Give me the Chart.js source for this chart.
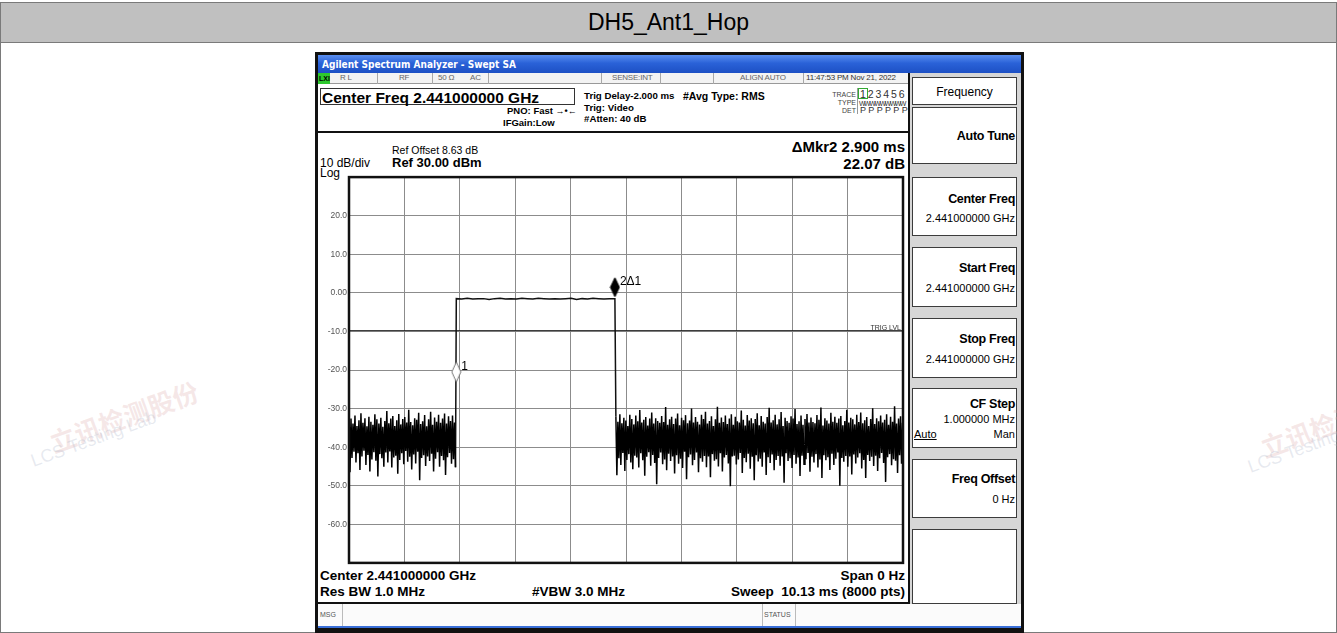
<!DOCTYPE html>
<html><head><meta charset="utf-8">
<script src="https://cdn.jsdelivr.net/npm/chart.js@4.4.0/dist/chart.umd.min.js"></script>
<style>
html,body{margin:0;padding:0;background:#fff;}
body{width:1337px;height:633px;position:relative;overflow:hidden;font-family:"Liberation Sans",Arial,sans-serif;color:#000;}
.a{position:absolute;white-space:nowrap;line-height:1;}
.b{position:absolute;box-sizing:border-box;}
.sk{position:absolute;box-sizing:border-box;left:912px;width:105px;background:#fff;border:1px solid #3c3c3c;}
.skt{position:absolute;right:1px;font-weight:bold;font-size:12.5px;letter-spacing:-0.3px;line-height:1;}
.skv{position:absolute;right:1px;font-size:11px;line-height:1;}
.st{position:absolute;top:74px;font-size:8px;color:#666;line-height:1;letter-spacing:-0.2px;white-space:nowrap;}
.sep{position:absolute;top:73px;width:1px;height:11px;background:#a8a8a8;}
.wm{position:absolute;white-space:nowrap;transform-origin:left top;}
</style>
</head><body>

<!-- page frame -->
<div class="b" style="left:0;top:2px;width:1337px;height:41px;background:#c0c0c0;border:1px solid #7a7a7a;"></div>
<div class="a" style="left:0;width:1337px;top:11px;text-align:center;font-size:23px;">DH5_Ant1_Hop</div>
<div class="b" style="left:0;top:43px;width:1px;height:590px;background:#7a7a7a;"></div>
<div class="b" style="left:1336px;top:43px;width:1px;height:590px;background:#7a7a7a;"></div>
<div class="b" style="left:0;top:632px;width:1337px;height:1px;background:#7a7a7a;"></div>

<!-- watermarks -->
<div class="wm" style="left:44px;top:425px;transform:rotate(-20deg);color:rgba(215,160,160,0.25);font-size:26px;font-weight:bold;font-family:'Noto Sans CJK SC';">立讯检测股份</div>
<div class="wm" style="left:28px;top:452px;transform:rotate(-20deg);color:rgba(170,180,200,0.28);font-size:18px;">LCS Testing Lab</div>
<div class="wm" style="left:1255px;top:430px;transform:rotate(-20deg);color:rgba(215,160,160,0.25);font-size:26px;font-weight:bold;font-family:'Noto Sans CJK SC';">立讯检测股份</div>
<div class="wm" style="left:1245px;top:458px;transform:rotate(-20deg);color:rgba(170,180,200,0.28);font-size:18px;">LCS Testing Lab</div>

<!-- analyzer frame -->
<div class="b" style="left:315px;top:52px;width:709px;height:581px;background:#111;"></div>
<div class="b" style="left:318px;top:55px;width:703px;height:18px;background:linear-gradient(#5b8ff0,#2a62d8 45%,#1d50c4);"></div>
<div class="a" style="left:322px;top:60px;color:#fff;font-weight:bold;font-size:10px;font-family:'Liberation Sans Narrow','DejaVu Sans Condensed',sans-serif;">Agilent Spectrum Analyzer - Swept SA</div>

<!-- status row -->
<div class="b" style="left:318px;top:73px;width:591px;height:11px;background:#f3f3f3;border-bottom:1px solid #999;"></div>
<div class="b" style="left:318px;top:73px;width:12px;height:11px;background:#2ec82e;"></div>
<div class="a" style="left:319px;top:75px;font-size:7px;font-weight:bold;">LXI</div>
<div class="st" style="left:340px;">R L</div>
<div class="sep" style="left:377px;"></div>
<div class="st" style="left:399px;">RF</div>
<div class="sep" style="left:432px;"></div>
<div class="st" style="left:438px;">50 Ω</div>
<div class="st" style="left:470px;">AC</div>
<div class="sep" style="left:488px;"></div>
<div class="sep" style="left:601px;"></div>
<div class="st" style="left:612px;">SENSE:INT</div>
<div class="sep" style="left:660px;"></div>
<div class="sep" style="left:713px;"></div>
<div class="st" style="left:740px;">ALIGN AUTO</div>
<div class="sep" style="left:803px;"></div>
<div class="st" style="left:806px;color:#333;">11:47:53 PM Nov 21, 2022</div>

<!-- left white content -->
<div class="b" style="left:318px;top:84px;width:590px;height:520px;background:#fff;"></div>
<!-- right panel -->
<div class="b" style="left:908px;top:73px;width:113px;height:531px;background:#d6d6d6;border-left:2px solid #111;"></div>

<!-- header texts -->
<div class="b" style="left:320px;top:88px;width:255px;height:17px;border:1px solid #333;"></div>
<div class="a" style="left:322px;top:90px;font-size:15.5px;font-weight:bold;">Center Freq 2.441000000 GHz</div>
<div class="a" style="left:507px;top:106px;font-size:9.5px;font-weight:bold;">PNO: Fast <span style="font-size:9px;">→•←</span></div>
<div class="a" style="left:503px;top:118px;font-size:9.5px;font-weight:bold;">IFGain:Low</div>
<div class="a" style="left:584px;top:91px;font-size:9.7px;font-weight:bold;">Trig Delay-2.000 ms</div>
<div class="a" style="left:584px;top:103px;font-size:9.7px;font-weight:bold;">Trig: Video</div>
<div class="a" style="left:584px;top:114px;font-size:9.7px;font-weight:bold;">#Atten: 40 dB</div>
<div class="a" style="left:683px;top:91px;font-size:10.5px;font-weight:bold;">#Avg Type: RMS</div>
<div class="a" style="left:822px;width:34px;text-align:right;top:91px;font-size:7px;color:#444;">TRACE</div>
<div class="a" style="left:822px;width:34px;text-align:right;top:99px;font-size:7px;color:#444;">TYPE</div>
<div class="a" style="left:822px;width:34px;text-align:right;top:107px;font-size:7px;color:#444;">DET</div>
<div class="b" style="left:857px;top:88px;width:1px;height:26px;background:#999;"></div>
<div class="b" style="left:858px;top:88px;width:10px;height:11px;border:1px solid #3a3;"></div>
<div class="a" style="left:860px;top:89px;font-size:10.5px;color:#333;word-spacing:-1px;">1 2 3 4 5 6</div>
<div class="a" style="left:859px;top:100px;font-size:7px;color:#333;letter-spacing:-1.5px;">WWWWWWWWW</div>
<div class="a" style="left:860px;top:106px;font-size:9px;color:#333;">P P P P P P</div>

<!-- graph box top -->
<div class="b" style="left:318px;top:131px;width:590px;height:2px;background:#111;"></div>
<div class="a" style="left:392px;top:145px;font-size:10.5px;">Ref Offset 8.63 dB</div>
<div class="a" style="left:320px;top:157px;font-size:12px;">10 dB/div</div>
<div class="a" style="left:392px;top:156px;font-size:13px;font-weight:bold;">Ref 30.00 dBm</div>
<div class="a" style="left:320px;top:167px;font-size:12px;">Log</div>
<div class="a" style="left:700px;width:205px;text-align:right;top:139px;font-size:15px;font-weight:bold;">ΔMkr2 2.900 ms</div>
<div class="a" style="left:700px;width:205px;text-align:right;top:156px;font-size:15px;font-weight:bold;">22.07 dB</div>

<!-- bottom texts -->
<div class="a" style="left:320px;top:569px;font-size:13.5px;font-weight:bold;">Center 2.441000000 GHz</div>
<div class="a" style="left:320px;top:585px;font-size:13.5px;font-weight:bold;">Res BW 1.0 MHz</div>
<div class="a" style="left:532px;top:585px;font-size:13.5px;font-weight:bold;">#VBW 3.0 MHz</div>
<div class="a" style="left:600px;width:305px;text-align:right;top:569px;font-size:13.5px;font-weight:bold;">Span 0 Hz</div>
<div class="a" style="left:600px;width:305px;text-align:right;top:585px;font-size:13.5px;font-weight:bold;white-space:pre;">Sweep  10.13 ms (8000 pts)</div>
<div class="b" style="left:318px;top:602px;width:591px;height:2px;background:#111;"></div>

<!-- msg row -->
<div class="b" style="left:318px;top:604px;width:703px;height:22px;background:#fbfbfb;"></div>
<div class="b" style="left:342px;top:604px;width:1px;height:22px;background:#bbb;"></div>
<div class="a" style="left:320px;top:611px;font-size:7px;color:#555;">MSG</div>
<div class="b" style="left:762px;top:604px;width:1px;height:22px;background:#bbb;"></div>
<div class="b" style="left:795px;top:604px;width:1px;height:22px;background:#bbb;"></div>
<div class="a" style="left:764px;top:611px;font-size:7px;color:#555;">STATUS</div>
<div class="b" style="left:318px;top:626px;width:703px;height:2px;background:#3a6fd8;"></div>

<!-- softkeys -->
<div class="sk" style="top:77px;height:28px;"><div class="a" style="left:0;width:103px;text-align:center;top:8px;font-size:12px;">Frequency</div></div>
<div class="sk" style="top:107px;height:57px;"><div class="skt" style="top:22px;">Auto Tune</div></div>
<div class="sk" style="top:177px;height:59px;"><div class="skt" style="top:15px;">Center Freq</div><div class="skv" style="top:35px;">2.441000000 GHz</div></div>
<div class="sk" style="top:247px;height:60px;"><div class="skt" style="top:14px;">Start Freq</div><div class="skv" style="top:35px;">2.441000000 GHz</div></div>
<div class="sk" style="top:318px;height:60px;"><div class="skt" style="top:14px;">Stop Freq</div><div class="skv" style="top:35px;">2.441000000 GHz</div></div>
<div class="sk" style="top:388px;height:60px;"><div class="skt" style="top:9px;">CF Step</div><div class="skv" style="top:25px;">1.000000 MHz</div><div class="a" style="left:1px;top:40px;font-size:11px;text-decoration:underline;">Auto</div><div class="skv" style="top:40px;">Man</div></div>
<div class="sk" style="top:459px;height:59px;"><div class="skt" style="top:13px;">Freq Offset</div><div class="skv" style="top:34px;">0 Hz</div></div>
<div class="sk" style="top:529px;height:75px;"></div>

<!-- chart -->
<div style="position:absolute;left:320px;top:170px;width:590px;height:400px;">
<canvas id="c"></canvas>
</div>

<script>
// ---------- data ----------
const sweepMs = 10.13;
const sampleMs = 0.0182;             // one trace sample per display column
const yTickValues = [20, 10, 0, -10, -20, -30, -40, -50, -60];
const yTickTexts  = ['20.0', '10.0', '0.00', '-10.0', '-20.0', '-30.0', '-40.0', '-50.0', '-60.0'];
const xGridMs = [0, 1.013, 2.026, 3.039, 4.052, 5.065, 6.078, 7.091, 8.104, 9.117, 10.13];

const noiseLeftStartMs = 0;
const noiseLeft = [
-34.8,-46.5,-32.6,-42.8,-33.9,-41.2,-31.8,-44.0,-34.5,-41.6,-33.0,-45.9,-31.2,-42.4,-33.7,-40.9,-32.5,-44.6,-34.6,-42.0,
-32.1,-46.3,-33.4,-43.2,-34.2,-41.3,-31.5,-43.5,-32.8,-47.6,-33.9,-41.8,-32.4,-42.9,-34.7,-45.1,-33.2,-41.4,-30.6,-44.0,
-33.8,-41.1,-32.6,-45.3,-31.9,-42.7,-34.5,-42.2,-33.0,-46.9,-31.4,-43.3,-34.1,-41.6,-32.7,-44.4,-32.2,-41.0,-33.6,-43.8,
-30.3,-42.5,-33.5,-45.8,-34.3,-41.9,-32.5,-44.2,-32.9,-41.2,-31.1,-48.6,-34.0,-42.8,-33.3,-42.1,-31.7,-44.9,-34.6,-42.4,
-32.8,-43.6,-30.8,-41.7,-34.2,-46.3,-32.3,-43.0,-33.4,-41.3,-31.6,-45.1,-33.7,-42.3,-32.6,-43.4,-31.3,-47.2,-33.9,-42.6,
-32.0,-41.5,-33.2,-44.3,-31.8,-43.1,-33.6,-45.2
];

const burstStartMs = 1.962;
const burstStepMs = 0.1;
const burstLevels = [-1.5,-1.6,-1.4,-1.6,-1.5,-1.5,-1.7,-1.5,-1.4,-1.6,-1.5,-1.6,-1.4,-1.5,-1.6,-1.4,-1.5,-1.6,-1.5,-1.6,-1.5,-1.4,-1.7,-1.5,-1.6,-1.4,-1.5,-1.6,-1.5,-1.5];

const noiseRightStartMs = 4.88;
const noiseRight = [
-32.1,-47.3,-33.4,-42.9,-31.5,-44.6,-33.8,-41.5,-32.4,-46.2,-33.1,-43.3,-34.5,-41.8,-31.6,-44.0,-32.7,-45.7,-34.1,-42.2,
-31.8,-42.7,-33.3,-45.3,-30.4,-41.6,-33.6,-43.4,-32.9,-47.4,-32.2,-42.5,-34.4,-41.3,-32.6,-44.8,-31.0,-42.0,-33.9,-44.1,
-32.5,-49.6,-33.2,-42.8,-33.7,-41.4,-31.9,-44.4,-33.5,-43.2,-29.6,-46.0,-34.2,-41.7,-32.8,-43.6,-32.1,-42.4,-34.0,-46.8,
-32.6,-42.1,-31.3,-44.3,-34.3,-43.0,-32.4,-45.4,-33.0,-41.2,-31.7,-48.3,-33.8,-42.6,-33.1,-41.9,-30.0,-44.7,-33.6,-43.3,
-32.2,-41.4,-33.4,-46.5,-34.1,-42.9,-31.6,-43.8,-32.7,-42.3,-30.8,-45.2,-33.9,-42.4,-33.2,-47.8,-32.0,-41.8,-34.5,-43.5,
-32.8,-43.1,-29.5,-45.0,-33.7,-41.6,-32.3,-46.3,-33.5,-42.7,-31.8,-42.0,-34.0,-44.2,-32.6,-50.1,-31.5,-42.4,-34.2,-42.2,
-32.1,-44.5,-33.3,-43.2,-33.6,-41.5,-30.5,-46.7,-32.9,-42.8,-34.4,-43.9,-31.7,-41.7,-33.1,-45.6,-32.5,-42.5,-33.8,-48.6,
-32.7,-42.1,-31.2,-43.7,-34.3,-43.0,-31.9,-45.1,-33.4,-41.4,-33.9,-47.2,-32.2,-42.6,-29.8,-44.1,-33.6,-41.9,-33.0,-46.0,
-31.6,-43.3,-34.1,-42.3,-32.8,-44.8,-30.9,-42.4,-34.5,-49.2,-32.4,-41.6,-33.2,-43.6,-33.7,-42.9,-32.0,-45.4,-32.6,-42.0,
-30.1,-44.3,-34.0,-42.7,-33.3,-47.5,-31.8,-42.2,-34.2,-44.4,-32.7,-43.1,-31.4,-41.5,-33.6,-46.4,-32.3,-42.5,-33.5,-44.0,
-33.8,-41.8,-31.7,-45.3,-32.9,-43.2,-29.7,-48.0,-34.4,-42.1,-32.5,-43.4,-33.1,-42.6,-33.9,-45.9,-31.1,-41.7,-33.4,-44.6,
-32.1,-43.0,-33.7,-41.4,-32.6,-50.0,-31.9,-42.8,-34.3,-43.8,-33.2,-42.3,-30.3,-45.1,-33.6,-42.4,-32.4,-47.1,-32.8,-41.9,
-34.1,-44.2,-31.6,-42.7,-33.5,-41.6,-31.0,-45.5,-33.8,-43.3,-33.0,-48.0,-32.2,-42.0,-34.5,-43.6,-32.7,-42.5,-29.9,-44.9,
-34.0,-42.2,-32.5,-46.2,-33.3,-42.9,-31.8,-41.5,-33.6,-44.1,-32.9,-49.0,-31.5,-42.6,-34.2,-41.8,-32.1,-44.7,-33.4,-43.1,
-29.4,-43.5,-33.9,-46.7,-32.6,-42.1,-32.0,-44.3,-33.7,-42.4
];

const markerNames = ['1', '2Δ1'];
const markerMs = [1.962, 4.862];
const markerDb = [-23.1, -1.0];
const trigLevelDb = -9.8;

// ---------- build ----------
const leftPts = noiseLeft.map((v, i) => ({x: noiseLeftStartMs + i * sampleMs, y: v}));
const burstPts = burstLevels.map((v, i) => ({x: burstStartMs + i * burstStepMs, y: v}));
const rightPts = noiseRight.map((v, i) => ({x: noiseRightStartMs + i * sampleMs, y: v}));
// burst segment joined to neighbouring noise samples (rising and falling edges)
const edgePts = [leftPts[leftPts.length - 1], ...burstPts, rightPts[0]];

function diamond(fill, stroke, w, h) {
  const c = document.createElement('canvas');
  c.width = w + 2; c.height = 2 * h + 2;
  const g = c.getContext('2d');
  const cx = (w + 2) / 2;
  g.beginPath();
  g.moveTo(cx, 1); g.lineTo(cx + w / 2, 1 + h / 2); g.lineTo(cx, 1 + h); g.lineTo(cx - w / 2, 1 + h / 2); g.closePath();
  g.fillStyle = fill; g.fill();
  g.lineWidth = 1; g.strokeStyle = stroke; g.stroke();
  return c;
}
const markerImgs = [diamond('#fff', '#777', 9, 20), diamond('#000', '#000', 9, 19)];

const frame = {
  id: 'frame',
  afterDatasetsDraw(chart) {
    const {ctx, chartArea: a} = chart;
    ctx.save();
    ctx.strokeStyle = '#111';
    ctx.lineWidth = 2.5;
    ctx.strokeRect(a.left, a.top, a.right - a.left, a.bottom - a.top);
    const ys = chart.scales.y;
    ctx.fillStyle = '#333';
    ctx.font = '7px "Liberation Sans", Arial';
    ctx.textAlign = 'right';
    ctx.textBaseline = 'bottom';
    ctx.fillText('TRIG LVL', a.right - 2, ys.getPixelForValue(trigLevelDb) + 1);
    const meta = chart.getDatasetMeta(3);
    ctx.fillStyle = '#000';
    ctx.font = '12px "Liberation Sans", Arial';
    ctx.textAlign = 'left';
    ctx.textBaseline = 'middle';
    meta.data.forEach((p, i) => {
      ctx.fillText(markerNames[i], p.x + 5, p.y - 15);
    });
    ctx.restore();
  }
};

new Chart(document.getElementById('c'), {
  type: 'line',
  data: {
    datasets: [
      {data: leftPts, borderColor: '#000', borderWidth: 1.5, pointRadius: 0, tension: 0, order: 2},
      {data: edgePts, borderColor: '#111', borderWidth: 1.5, pointRadius: 0, tension: 0, order: 2},
      {data: rightPts, borderColor: '#000', borderWidth: 1.5, pointRadius: 0, tension: 0, order: 2},
      {data: markerMs.map((x, i) => ({x, y: markerDb[i]})), showLine: false, pointStyle: markerImgs, pointRadius: 6, order: 0},
      {data: [{x: 0, y: trigLevelDb}, {x: sweepMs, y: trigLevelDb}], borderColor: '#222', borderWidth: 1, pointRadius: 0, order: 3}
    ]
  },
  options: {
    responsive: true,
    maintainAspectRatio: false,
    animation: false,
    events: [],
    layout: {padding: {left: 0, top: 5, right: 3, bottom: 6}},
    plugins: {legend: {display: false}, tooltip: {enabled: false}},
    scales: {
      x: {
        type: 'linear', min: 0, max: sweepMs,
        afterBuildTicks: s => { s.ticks = xGridMs.map(v => ({value: v})); },
        afterFit: s => { s.height = 0; },
        ticks: {display: false},
        grid: {color: '#8c8c8c', lineWidth: 1, drawTicks: false},
        border: {display: false}
      },
      y: {
        min: -70, max: 30,
        afterFit: s => { s.width = 29; },
        ticks: {
          stepSize: 10, padding: 2, color: '#555',
          font: {size: 8.5, family: '"Liberation Sans", Arial'},
          callback: v => { const i = yTickValues.indexOf(v); return i >= 0 ? yTickTexts[i] : ''; }
        },
        grid: {color: '#8c8c8c', lineWidth: 1, drawTicks: false},
        border: {display: false}
      }
    }
  },
  plugins: [frame]
});
</script>
</body></html>
